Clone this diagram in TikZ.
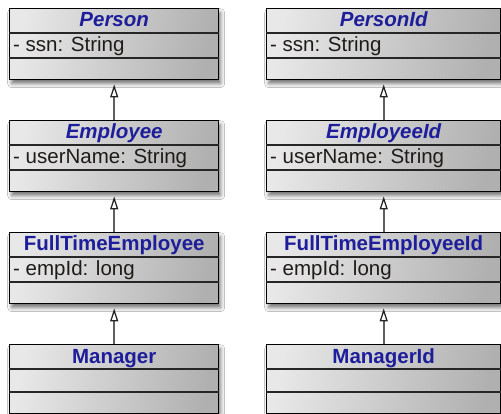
\documentclass[tikz,border=0pt]{standalone}
\usepackage{fontspec}
\setmainfont{Liberation Sans}
\usetikzlibrary{arrows.meta,calc,shadows.blur}
\definecolor{hdrblue}{RGB}{30,30,155}
\definecolor{attrtxt}{RGB}{30,28,25}
\definecolor{boxlight}{RGB}{232,232,232}
\definecolor{boxdark}{RGB}{176,176,176}
\definecolor{linkgray}{RGB}{95,95,95}
\tikzset{
  classbox/.style={draw=black, line width=1.4pt, inner sep=0pt, anchor=north west,
    left color=boxlight, right color=boxdark, shading angle=80,
    blur shadow={shadow xshift=2pt, shadow yshift=-4pt, shadow blur radius=4pt, shadow opacity=55}},
  sepline/.style={draw=black!85, line width=1.3pt},
  hdr/.style={anchor=base, inner sep=0pt, text=hdrblue, font=\fontsize{20.5}{24}\selectfont\bfseries},
  ahdr/.style={hdr, font=\fontsize{20.5}{24}\selectfont\bfseries\itshape},
  attr/.style={anchor=base west, inner sep=0pt, text=attrtxt, font=\fontsize{20.5}{24}\selectfont},
  inh/.style={draw=linkgray, line width=1.8pt, shorten >=4pt,
    -{Triangle[open, width=8pt, length=13pt, line width=1.3pt, color=black!85, fill=white]}}
}
% #1 name, #2 x, #3 y, #4 width, #5 title style, #6 title, #7 attribute, #8 row2 height, #9 total height
\newcommand\umlclass[9]{%
  \node[classbox, minimum width=#4pt, minimum height=#9pt] (#1) at (#2,#3) {};
  \draw[sepline] ($(#1.north west)+(0,25)$) -- ($(#1.north east)+(0,25)$);
  \draw[sepline] ($(#1.north west)+(0,25+#8)$) -- ($(#1.north east)+(0,25+#8)$);
  \node[#5] (#1-t) at ($(#1.north)+(0,19)$) {#6};
  \node[attr] (#1-a) at ($(#1.north west)+(4,44)$) {#7};
}
\begin{document}
\begin{tikzpicture}[x=1pt,y=-1pt]
\useasboundingbox[fill=white] (0,0) rectangle (501,414);
\umlclass{person}{9}{8}{209}{ahdr}{Person}{- ssn: String}{25}{71}
\umlclass{employee}{9}{120}{209}{ahdr}{Employee}{- userName: String}{25}{71}
\umlclass{fte}{9}{232}{209}{hdr}{FullTimeEmployee}{- empId: long}{25}{71}
\umlclass{manager}{9}{344}{209}{hdr}{Manager}{}{23}{69}
\umlclass{personid}{266}{8}{234}{ahdr}{PersonId}{- ssn: String}{25}{71}
\umlclass{employeeid}{266}{120}{234}{ahdr}{EmployeeId}{- userName: String}{25}{71}
\umlclass{fteid}{266}{232}{234}{hdr}{FullTimeEmployeeId}{- empId: long}{25}{71}
\umlclass{managerid}{266}{344}{234}{hdr}{ManagerId}{}{23}{69}
\draw[inh] (employee) -- (person);
\draw[inh] (fte) -- (employee);
\draw[inh] (manager) -- (fte);
\draw[inh] (employeeid) -- (personid);
\draw[inh] (fteid) -- (employeeid);
\draw[inh] (managerid) -- (fteid);
\end{tikzpicture}
\end{document}
